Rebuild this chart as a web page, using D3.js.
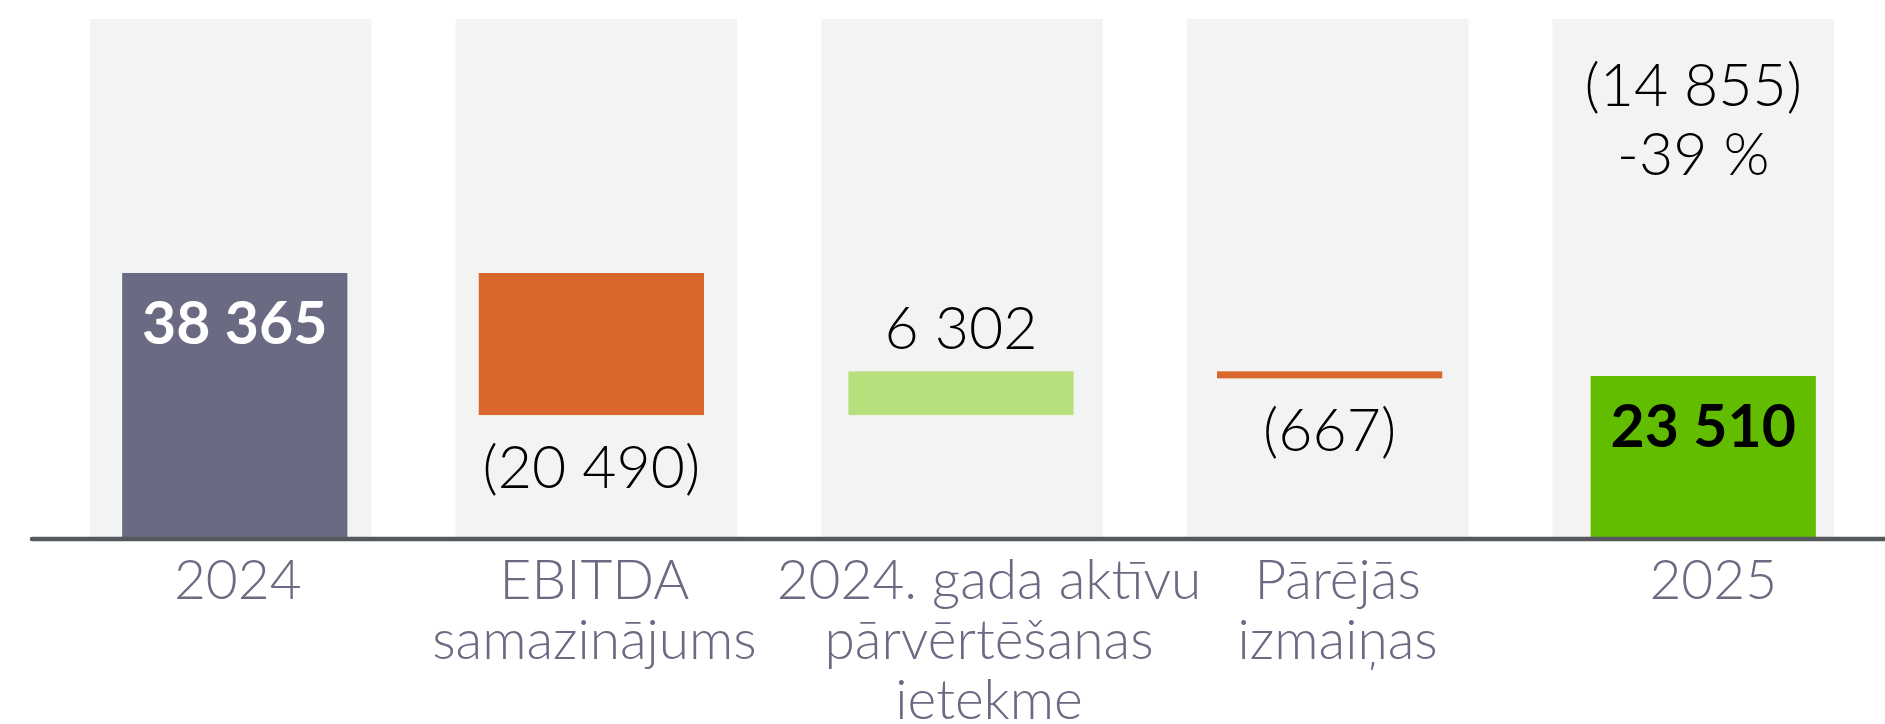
<!DOCTYPE html>
<html>
<head>
<meta charset="utf-8">
<script src="https://cdn.jsdelivr.net/npm/d3@7"></script>
<style>
  body { margin: 0; background: #fff; }
  svg { display: block; font-family: Lato, "Open Sans", sans-serif; }
</style>
</head>
<body>
<svg></svg>
<script>
// chart values
const categories = ["2024", "EBITDA samazinājums", "2024. gada aktīvu pārvērtēšanas ietekme", "Pārējās izmaiņas", "2025"];
const tickLines = [["2024"], ["EBITDA", "samazinājums"], ["2024. gada aktīvu", "pārvērtēšanas", "ietekme"], ["Pārējās", "izmaiņas"], ["2025"]];
const values = [38365, -20490, 6302, -667, 23510];
const kinds = ["total", "delta", "delta", "delta", "total"];
const valueLabels = ["38 365", "(20 490)", "6 302", "(667)", "23 510"];
const changeLabels = ["(14 855)", "-39 %"];

// layout
const width = 1885, height = 724;
const plotTop = 19, base = 539;
const labelDx = [7, -2, 27, 10, 20];
const barDx = [4, -5, -1, 2, 10];
const fontFamily = "Lato, 'Open Sans', sans-serif";

var svg = d3.select("svg")
    .attr("width", width)
    .attr("height", height)
    .attr("viewBox", [0, 0, width, height]);

const x = d3.scaleBand()
    .domain(categories)
    .range([90, 1834])
    .paddingInner(0.23)
    .paddingOuter(0);

const y = d3.scaleLinear()
    .domain([0, 75000])
    .range([base, plotTop]);

// waterfall steps
let running = 0;
const steps = values.map((v, i) => {
    let start, end;
    if (kinds[i] == "total") { start = 0; end = v; running = v; }
    else { start = running; end = running + v; running = end; }
    return { cat: categories[i], value: v, kind: kinds[i], start: start, end: end, label: valueLabels[i], i: i };
});

function barColor(d) {
    if (d.kind == "total") return d.i == 0 ? "#6a6a82" : "#62bd00";
    return d.value < 0 ? "#d9662b" : "#b7df7b";
}

// background columns
svg.append("g")
    .selectAll()
    .data(categories)
    .join("rect")
    .attr("x", d => x(d))
    .attr("y", plotTop)
    .attr("width", x.bandwidth())
    .attr("height", base - plotTop)
    .attr("fill", "#f2f4f3");

const barW = x.bandwidth() * 0.8;
const barX = d => x(d.cat) + (x.bandwidth() - barW) / 2 + barDx[d.i];

svg.append("g")
    .selectAll()
    .data(steps)
    .join("rect")
    .attr("x", barX)
    .attr("y", d => y(Math.max(d.start, d.end)))
    .attr("width", barW)
    .attr("height", d => Math.max(7, Math.abs(y(d.start) - y(d.end))))
    .attr("fill", barColor);

// value labels
svg.append("g")
    .selectAll()
    .data(steps)
    .join("text")
    .attr("x", d => barX(d) + barW / 2)
    .attr("y", d => {
        const hi = y(Math.max(d.start, d.end)), lo = y(Math.min(d.start, d.end));
        if (d.kind == "total") return hi + 71;
        if (d.value < 0) return Math.max(lo, hi + 7) + 73;
        return hi - 22;
    })
    .attr("text-anchor", "middle")
    .attr("font-size", 59)
    .attr("font-weight", d => d.kind == "total" ? 700 : 300)
    .attr("fill", d => d.kind == "total" && d.i == 0 ? "#fff" : "#000")
    .text(d => d.label);

// change over the year
const last = categories[categories.length - 1];
svg.append("g")
    .selectAll()
    .data(changeLabels)
    .join("text")
    .attr("x", x(last) + x.bandwidth() / 2)
    .attr("y", (d, i) => 106 + i * 69)
    .attr("text-anchor", "middle")
    .attr("font-size", 59)
    .attr("font-weight", 300)
    .attr("fill", "#000")
    .text(d => d);

// x axis with wrapped labels
const xAxis = svg.append("g")
    .attr("transform", `translate(0,${base})`)
    .call(d3.axisBottom(x).tickSize(0).tickFormat(""));
xAxis.select(".domain").remove();

xAxis.selectAll(".tick").each(function (d, i) {
    const t = d3.select(this).append("text")
        .attr("text-anchor", "middle")
        .attr("font-family", fontFamily)
        .attr("font-size", 55)
        .attr("font-weight", 300)
        .attr("fill", "#6b6a82");
    tickLines[i].forEach((line, k) => {
        t.append("tspan")
            .attr("x", labelDx[i])
            .attr("y", 60 + k * 60)
            .text(line);
    });
});

svg.append("line")
    .attr("x1", 32)
    .attr("x2", width + 10)
    .attr("y1", base)
    .attr("y2", base)
    .attr("stroke", "#55595c")
    .attr("stroke-width", 4.5)
    .attr("stroke-linecap", "round");
</script>
</body>
</html>
